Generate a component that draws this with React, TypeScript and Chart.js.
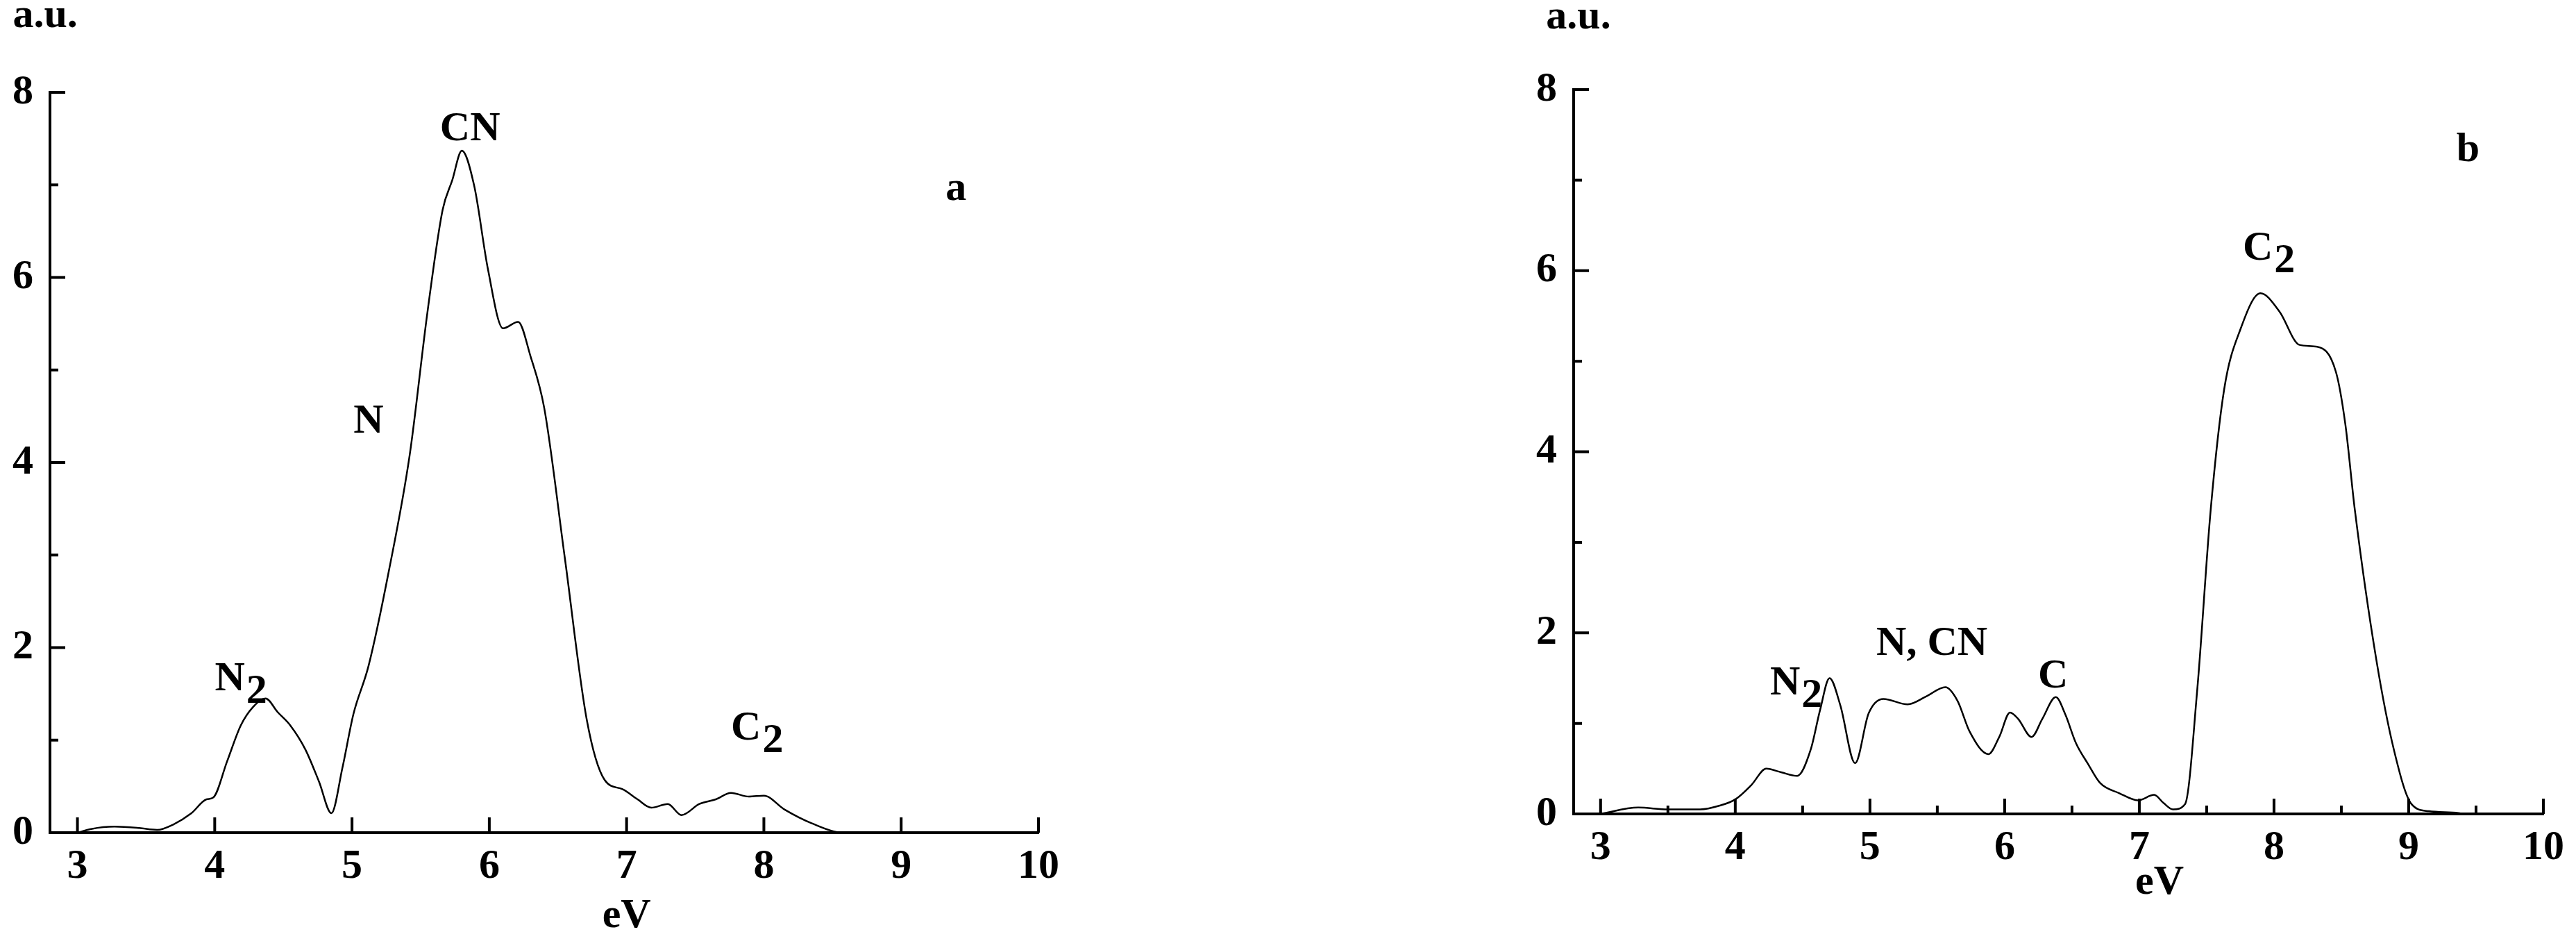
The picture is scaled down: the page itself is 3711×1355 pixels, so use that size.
import { useEffect, useRef } from 'react';
import { Chart, registerables } from 'chart.js';

Chart.register(...registerables);

// ---------- data ----------
const xTickValues = [3, 4, 5, 6, 7, 8, 9, 10];
const yTickValues = [0, 2, 4, 6, 8];
const yMinorTickValues = [1, 3, 5, 7];
const xMinorTickValuesA: number[] = [];
const xMinorTickValuesB = [3.5, 4.5, 5.5, 6.5, 7.5, 8.5, 9.5];

const energyA = [3.0, 3.1, 3.27, 3.45, 3.58, 3.7, 3.83, 3.94, 3.99, 4.09, 4.19, 4.28, 4.37, 4.46, 4.55, 4.66, 4.76, 4.85, 4.93, 5.01, 5.12, 5.27, 5.42, 5.55, 5.66, 5.73, 5.8, 5.89, 5.99, 6.1, 6.21, 6.3, 6.4, 6.55, 6.71, 6.84, 6.97, 7.08, 7.18, 7.3, 7.4, 7.53, 7.65, 7.76, 7.89, 8.0, 8.15, 8.35, 8.58, 8.7];
const intensityA = [0, 0.04, 0.065, 0.05, 0.03, 0.09, 0.21, 0.36, 0.38, 0.77, 1.16, 1.36, 1.45, 1.3, 1.16, 0.9, 0.55, 0.21, 0.7, 1.28, 1.8, 2.84, 4.08, 5.63, 6.73, 7.05, 7.37, 6.99, 6.09, 5.45, 5.52, 5.15, 4.59, 2.97, 1.22, 0.57, 0.47, 0.36, 0.27, 0.31, 0.19, 0.31, 0.36, 0.43, 0.39, 0.4, 0.25, 0.1, 0.0, 0.0];

const energyB = [3.0, 3.28, 3.5, 3.74, 3.88, 4.0, 4.12, 4.23, 4.34, 4.46, 4.56, 4.63, 4.7, 4.78, 4.89, 4.99, 5.1, 5.28, 5.42, 5.56, 5.65, 5.74, 5.88, 5.96, 6.04, 6.1, 6.2, 6.28, 6.38, 6.45, 6.53, 6.62, 6.71, 6.85, 6.99, 7.11, 7.18, 7.25, 7.34, 7.43, 7.53, 7.63, 7.75, 7.9, 8.04, 8.19, 8.32, 8.46, 8.53, 8.6, 8.76, 8.89, 9.02, 9.15, 9.37, 9.4];
const intensityB = [0, 0.07, 0.05, 0.05, 0.09, 0.16, 0.32, 0.5, 0.46, 0.42, 0.71, 1.15, 1.5, 1.2, 0.56, 1.11, 1.27, 1.21, 1.3, 1.4, 1.25, 0.91, 0.66, 0.85, 1.12, 1.05, 0.85, 1.05, 1.29, 1.1, 0.78, 0.55, 0.34, 0.23, 0.15, 0.21, 0.12, 0.05, 0.11, 1.37, 3.36, 4.69, 5.35, 5.75, 5.55, 5.18, 5.16, 4.88, 4.3, 3.36, 1.7, 0.71, 0.11, 0.03, 0.01, 0];

// annotation texts (main text, subscript); anchor = horizontal centre of main text, baseline, in data units
const annotTextA = [['CN', ''], ['N', ''], ['N', '2'], ['C', '2'], ['a', ''], ['a.u.', ''], ['eV', '']];
const annotXA = [5.86, 5.12, 4.11, 7.87, 9.4, 2.765, 7.0];
const annotYA = [7.48, 4.32, 1.535, 1.008, 6.84, 8.706, -1.023];

const annotTextB = [['b', ''], ['C', '2'], ['N', '2'], ['N, CN', ''], ['C', ''], ['a.u.', ''], ['eV', '']];
const annotXB = [9.44, 7.88, 4.37, 5.46, 6.36, 2.836, 7.15];
const annotYB = [7.21, 6.12, 1.318, 1.755, 1.395, 8.674, -0.881];

const FONT_FAMILY = '"Liberation Serif", "Times New Roman", serif';

type PanelCfg = {
  energy: number[];
  intensity: number[];
  xMinor: number[];
  annotText: string[][];
  annotX: number[];
  annotY: number[];
  width: number;
  height: number;
  padTop: number;
  padRight: number;
  yAxisWidth: number;
  xAxisHeight: number;
};

function makeChart(canvas: HTMLCanvasElement, cfg: PanelCfg) {
  const tickPlugin = {
    id: 'inwardTicksAndLabels',
    afterDraw(chart: any) {
      const ctx = chart.ctx as CanvasRenderingContext2D;
      const xs = chart.scales.x;
      const ys = chart.scales.y;
      const area = chart.chartArea;
      ctx.save();
      ctx.strokeStyle = '#000';
      ctx.lineWidth = 4;
      ctx.lineCap = 'butt';
      const major = 22;
      const minor = 12;
      ctx.beginPath();
      yTickValues.forEach((v) => {
        const py = ys.getPixelForValue(v);
        ctx.moveTo(area.left, py);
        ctx.lineTo(area.left + major, py);
      });
      yMinorTickValues.forEach((v) => {
        const py = ys.getPixelForValue(v);
        ctx.moveTo(area.left, py);
        ctx.lineTo(area.left + minor, py);
      });
      xTickValues.forEach((v) => {
        const px = xs.getPixelForValue(v);
        ctx.moveTo(px, area.bottom);
        ctx.lineTo(px, area.bottom - major);
      });
      cfg.xMinor.forEach((v) => {
        const px = xs.getPixelForValue(v);
        ctx.moveTo(px, area.bottom);
        ctx.lineTo(px, area.bottom - minor);
      });
      ctx.stroke();

      // text annotations
      ctx.fillStyle = '#000';
      ctx.font = `bold 60px ${FONT_FAMILY}`;
      ctx.textBaseline = 'alphabetic';
      cfg.annotText.forEach((t, i) => {
        const px = xs.getPixelForValue(cfg.annotX[i]);
        const py = ys.getPixelForValue(cfg.annotY[i]);
        const main = t[0];
        const sub = t[1];
        ctx.textAlign = 'center';
        ctx.fillText(main, px, py);
        if (sub) {
          const w = ctx.measureText(main).width;
          ctx.textAlign = 'left';
          ctx.fillText(sub, px + w / 2 + 2, py + 18);
        }
      });
      ctx.restore();
    },
  };

  return new Chart(canvas, {
    type: 'scatter',
    data: {
      datasets: [
        {
          data: cfg.energy.map((e, i) => ({ x: e, y: cfg.intensity[i] })),
          showLine: true,
          borderColor: '#000',
          borderWidth: 2.5,
          pointRadius: 0,
          cubicInterpolationMode: 'monotone',
          fill: false,
        } as any,
      ],
    },
    options: {
      responsive: false,
      animation: false,
      devicePixelRatio: 1,
      layout: { padding: { left: 0, top: cfg.padTop, right: cfg.padRight, bottom: 0 } },
      plugins: { legend: { display: false }, tooltip: { enabled: false } },
      scales: {
        x: {
          type: 'linear',
          min: 2.8,
          max: 10,
          grid: { display: false, drawTicks: false },
          border: { display: true, color: '#000', width: 4 },
          ticks: {
            color: '#000',
            padding: 13,
            font: { family: FONT_FAMILY, size: 60, weight: 'bold' },
            maxRotation: 0,
            autoSkip: false,
          },
          afterBuildTicks: (scale: any) => {
            scale.ticks = xTickValues.map((v) => ({ value: v }));
          },
          afterFit: (scale: any) => {
            scale.height = cfg.xAxisHeight;
          },
        },
        y: {
          type: 'linear',
          min: 0,
          max: 8,
          grid: { display: false, drawTicks: false },
          border: { display: true, color: '#000', width: 4 },
          ticks: {
            color: '#000',
            padding: 24,
            font: { family: FONT_FAMILY, size: 60, weight: 'bold' },
            autoSkip: false,
          },
          afterBuildTicks: (scale: any) => {
            scale.ticks = yTickValues.map((v) => ({ value: v }));
          },
          afterFit: (scale: any) => {
            scale.width = cfg.yAxisWidth;
          },
        },
      },
    } as any,
    plugins: [tickPlugin],
  });
}

function Panel(props: { cfg: PanelCfg; left: number }) {
  const ref = useRef<HTMLCanvasElement | null>(null);
  useEffect(() => {
    if (!ref.current) return;
    const chart = makeChart(ref.current, props.cfg);
    return () => chart.destroy();
  }, []);
  return (
    <canvas
      ref={ref}
      width={props.cfg.width}
      height={props.cfg.height}
      style={{
        position: 'absolute',
        left: props.left,
        top: 0,
        width: props.cfg.width,
        height: props.cfg.height,
        display: 'block',
      }}
    />
  );
}

const panelA: PanelCfg = {
  energy: energyA,
  intensity: intensityA,
  xMinor: xMinorTickValuesA,
  annotText: annotTextA,
  annotX: annotXA,
  annotY: annotYA,
  width: 1600,
  height: 1355,
  padTop: 133,
  padRight: 104,
  yAxisWidth: 72,
  xAxisHeight: 156,
};

const panelB: PanelCfg = {
  energy: energyB,
  intensity: intensityB,
  xMinor: xMinorTickValuesB,
  annotText: annotTextB,
  annotX: annotXB,
  annotY: annotYB,
  width: 1561,
  height: 1355,
  padTop: 129,
  padRight: 47,
  yAxisWidth: 117,
  xAxisHeight: 183,
};

export default function App() {
  return (
    <div
      style={{
        position: 'absolute',
        left: 0,
        top: 0,
        width: 3711,
        height: 1355,
        background: '#fff',
        overflow: 'hidden',
      }}
    >
      <Panel cfg={panelA} left={0} />
      <Panel cfg={panelB} left={2150} />
    </div>
  );
}
